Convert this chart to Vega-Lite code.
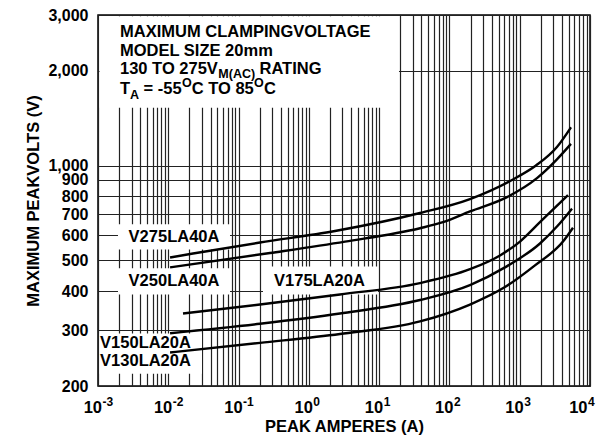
{
  "$schema": "https://vega.github.io/schema/vega-lite/v6.json",
  "width": 492,
  "height": 371,
  "autosize": {"type": "none"},
  "padding": {"left": 98, "top": 15, "right": 9, "bottom": 58},
  "background": "white",
  "config": {
    "view": {"stroke": "#000", "strokeWidth": 1.5},
    "font": "Liberation Sans",
    "text": {"font": "Liberation Sans", "fontWeight": "bold", "color": "#000"}
  },
  "datasets": {
    "curves": [
      {"c": "V275", "x": 0.0106, "y": 511}, {"c": "V275", "x": 0.0225, "y": 526}, {"c": "V275", "x": 0.2018, "y": 570},
      {"c": "V275", "x": 2.353, "y": 620}, {"c": "V275", "x": 38.1, "y": 707}, {"c": "V275", "x": 196, "y": 783},
      {"c": "V275", "x": 776, "y": 900}, {"c": "V275", "x": 1703, "y": 1000}, {"c": "V275", "x": 3388, "y": 1145},
      {"c": "V275", "x": 5362, "y": 1322},
      {"c": "V250", "x": 0.0106, "y": 475.5}, {"c": "V250", "x": 0.28, "y": 528}, {"c": "V250", "x": 3.27, "y": 574},
      {"c": "V250", "x": 38.1, "y": 632.6}, {"c": "V250", "x": 80.9, "y": 661}, {"c": "V250", "x": 196, "y": 715},
      {"c": "V250", "x": 659, "y": 794}, {"c": "V250", "x": 1761, "y": 912}, {"c": "V250", "x": 3388, "y": 1046},
      {"c": "V250", "x": 5362, "y": 1171},
      {"c": "V175", "x": 0.0162, "y": 339.5}, {"c": "V175", "x": 0.2018, "y": 362.5}, {"c": "V175", "x": 2.77, "y": 390},
      {"c": "V175", "x": 38.1, "y": 424}, {"c": "V175", "x": 196, "y": 469}, {"c": "V175", "x": 524, "y": 518.6},
      {"c": "V175", "x": 1009, "y": 574}, {"c": "V175", "x": 1941, "y": 661}, {"c": "V175", "x": 3175, "y": 735.5},
      {"c": "V175", "x": 4862, "y": 806},
      {"c": "V150", "x": 0.0106, "y": 294}, {"c": "V150", "x": 0.2018, "y": 315}, {"c": "V150", "x": 2.77, "y": 339.5},
      {"c": "V150", "x": 38.1, "y": 374.6}, {"c": "V150", "x": 196, "y": 417.8}, {"c": "V150", "x": 617, "y": 475.5},
      {"c": "V150", "x": 1941, "y": 566}, {"c": "V150", "x": 3388, "y": 640.5}, {"c": "V150", "x": 5543, "y": 730},
      {"c": "V130", "x": 0.0106, "y": 255.5}, {"c": "V130", "x": 0.2018, "y": 274}, {"c": "V130", "x": 2.77, "y": 292.4},
      {"c": "V130", "x": 38.1, "y": 320.4}, {"c": "V130", "x": 196, "y": 362.5}, {"c": "V130", "x": 617, "y": 411.8},
      {"c": "V130", "x": 1648, "y": 482.5}, {"c": "V130", "x": 4130, "y": 574}, {"c": "V130", "x": 5730, "y": 635}
    ],
    "boxes": [
      {"x": 0.00105, "x2": 19.16, "y": 1525, "y2": 2975},
      {"x": 0.001925, "x2": 0.0755, "y": 542, "y2": 651},
      {"x": 0.001925, "x2": 0.0755, "y": 390, "y2": 472},
      {"x": 0.2226, "x2": 9.63, "y": 390, "y2": 478.8},
      {"x": 0.00105, "x2": 0.03017, "y": 218.9, "y2": 293.4}
    ],
    "labels": [
      {"x": 0.01206, "y": 594, "t": "V275LA40A"},
      {"x": 0.01206, "y": 430, "t": "V250LA40A"},
      {"x": 1.416, "y": 431, "t": "V175LA20A"},
      {"x": 0.00474, "y": 273.3, "t": "V150LA20A"},
      {"x": 0.00474, "y": 239.8, "t": "V130LA20A"}
    ],
    "titleText": [
      {"x": 0.002056, "y": 2658, "t": "MAXIMUM CLAMPINGVOLTAGE"},
      {"x": 0.002056, "y": 2300, "t": "MODEL SIZE 20mm"},
      {"x": 0.002056, "y": 2029, "t": "130 TO 275V"},
      {"x": 0.1984, "y": 2029, "t": "RATING"},
      {"x": 0.002056, "y": 1747, "t": "T"},
      {"x": 0.004454, "y": 1747, "t": "= -55"},
      {"x": 0.02153, "y": 1747, "t": "C TO 85"},
      {"x": 0.23, "y": 1747, "t": "C"}
    ],
    "titleSmall": [
      {"x": 0.0515, "y": 1955, "t": "M(AC)"},
      {"x": 0.002862, "y": 1669, "t": "A"},
      {"x": 0.01567, "y": 1827, "t": "O"},
      {"x": 0.1657, "y": 1827, "t": "O"}
    ],
    "ticks": [
      {"x": 0.001, "y": 200, "e": "-3"}, {"x": 0.01, "y": 200, "e": "-2"}, {"x": 0.1, "y": 200, "e": "-1"},
      {"x": 1, "y": 200, "e": "0"}, {"x": 10, "y": 200, "e": "1"}, {"x": 100, "y": 200, "e": "2"},
      {"x": 1000, "y": 200, "e": "3"}, {"x": 10000, "y": 200, "e": "4"}
    ]
  },
  "encoding": {
    "x": {
      "field": "x", "type": "quantitative",
      "scale": {"type": "log", "domain": [0.001, 10000]},
      "axis": {
        "values": [0.001, 0.002, 0.003, 0.004, 0.005, 0.006, 0.007, 0.008, 0.009,
                   0.01, 0.02, 0.03, 0.04, 0.05, 0.06, 0.07, 0.08, 0.09,
                   0.1, 0.2, 0.3, 0.4, 0.5, 0.6, 0.7, 0.8, 0.9,
                   1, 2, 3, 4, 5, 6, 7, 8, 9,
                   10, 20, 30, 40, 50, 60, 70, 80, 90,
                   100, 200, 300, 400, 500, 600, 700, 800, 900,
                   1000, 2000, 3000, 4000, 5000, 6000, 7000, 8000, 9000, 10000],
        "grid": true, "gridColor": "#222", "gridWidth": 1.2, "gridOpacity": 1,
        "labels": false, "ticks": false, "domain": false,
        "title": "PEAK AMPERES (A)", "titleFont": "Liberation Sans", "titleFontSize": 16.5,
        "titleFontWeight": "bold", "titleColor": "#000", "titlePadding": 32
      }
    },
    "y": {
      "field": "y", "type": "quantitative",
      "scale": {"type": "log", "domain": [200, 3000]},
      "axis": {
        "values": [200, 300, 400, 500, 600, 700, 800, 900, 1000, 2000, 3000],
        "format": ",",
        "grid": true, "gridColor": "#222", "gridWidth": 1.2, "gridOpacity": 1,
        "ticks": false, "domain": false, "labelOverlap": false,
        "labelPadding": 10, "labelFont": "Liberation Sans", "labelFontSize": 16,
        "labelFontWeight": "bold", "labelColor": "#000",
        "title": "MAXIMUM PEAKVOLTS (V)", "titleFont": "Liberation Sans", "titleFontSize": 16.5,
        "titleFontWeight": "bold", "titleColor": "#000", "titlePadding": 6
      }
    }
  },
  "layer": [
    {
      "data": {"name": "boxes"},
      "mark": {"type": "rect", "fill": "white", "strokeWidth": 0},
      "encoding": {"x2": {"field": "x2"}, "y2": {"field": "y2"}}
    },
    {
      "data": {"name": "curves"},
      "mark": {"type": "line", "stroke": "#000", "strokeWidth": 2.4, "interpolate": "monotone"},
      "encoding": {"detail": {"field": "c"}}
    },
    {
      "data": {"name": "labels"},
      "mark": {"type": "text", "align": "center", "baseline": "middle", "fontSize": 16.5, "fontWeight": "bold", "font": "Liberation Sans", "color": "#000"},
      "encoding": {"text": {"field": "t"}}
    },
    {
      "data": {"name": "titleText"},
      "mark": {"type": "text", "align": "left", "baseline": "middle", "fontSize": 16.5, "fontWeight": "bold", "font": "Liberation Sans", "color": "#000"},
      "encoding": {"text": {"field": "t"}}
    },
    {
      "data": {"name": "titleSmall"},
      "mark": {"type": "text", "align": "left", "baseline": "middle", "fontSize": 12.5, "fontWeight": "bold", "font": "Liberation Sans", "color": "#000"},
      "encoding": {"text": {"field": "t"}}
    },
    {
      "data": {"name": "ticks"},
      "transform": [{"filter": "datum.x < 5000"}],
      "mark": {"type": "text", "align": "right", "baseline": "middle", "dx": 4, "dy": 21.5, "fontSize": 16.5, "fontWeight": "bold", "font": "Liberation Sans", "color": "#000", "text": "10"},
      "encoding": {}
    },
    {
      "data": {"name": "ticks"},
      "transform": [{"filter": "datum.x < 5000"}],
      "mark": {"type": "text", "align": "left", "baseline": "middle", "dx": 4.5, "dy": 15.7, "fontSize": 12, "fontWeight": "bold", "font": "Liberation Sans", "color": "#000"},
      "encoding": {"text": {"field": "e"}}
    },
    {
      "data": {"name": "ticks"},
      "transform": [{"filter": "datum.x > 5000"}],
      "mark": {"type": "text", "align": "right", "baseline": "middle", "dx": -2.5, "dy": 21.5, "fontSize": 16.5, "fontWeight": "bold", "font": "Liberation Sans", "color": "#000", "text": "10"},
      "encoding": {}
    },
    {
      "data": {"name": "ticks"},
      "transform": [{"filter": "datum.x > 5000"}],
      "mark": {"type": "text", "align": "left", "baseline": "middle", "dx": -2, "dy": 15.7, "fontSize": 12, "fontWeight": "bold", "font": "Liberation Sans", "color": "#000"},
      "encoding": {"text": {"field": "e"}}
    }
  ]
}
